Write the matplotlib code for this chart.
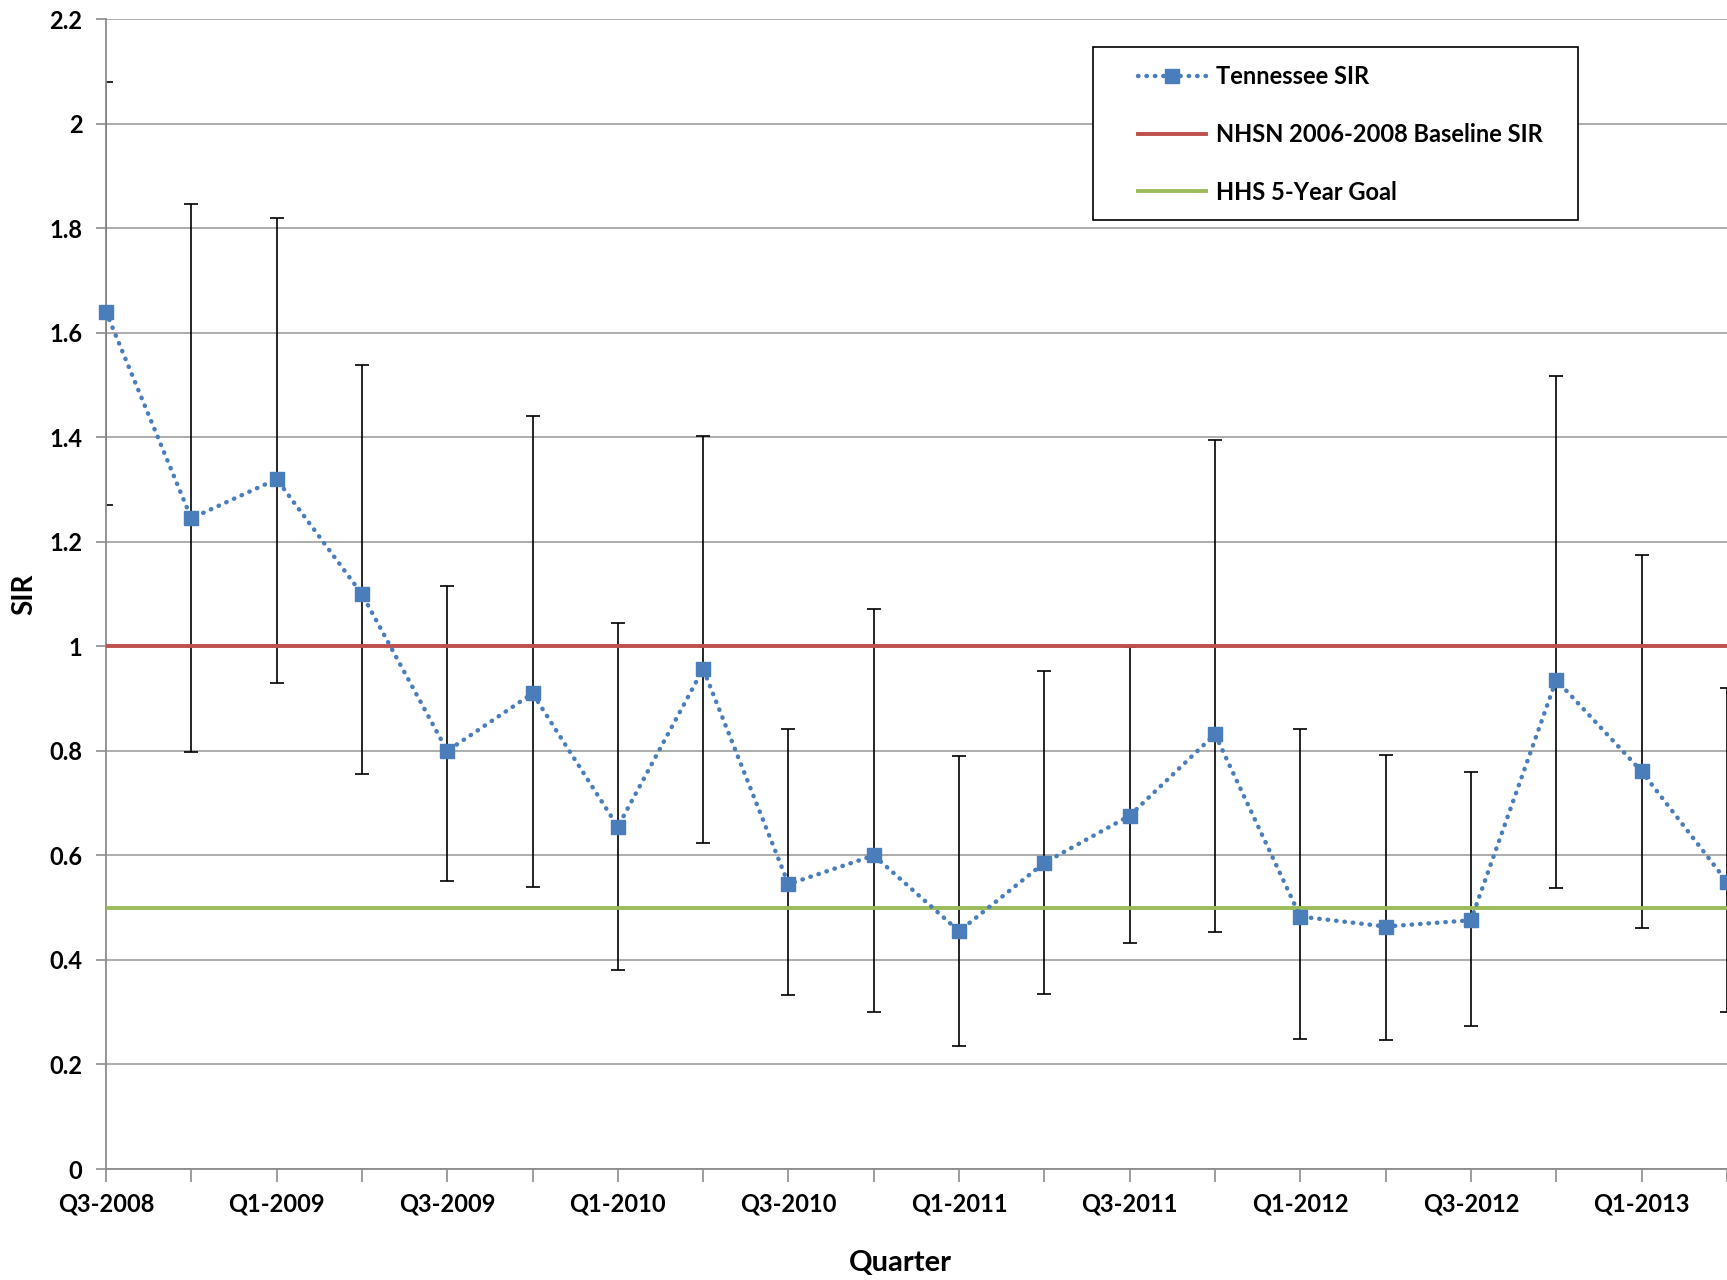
import numpy as np
import matplotlib.pyplot as plt
from matplotlib.patches import Rectangle

plt.rcParams['font.family'] = ['Lato', 'DejaVu Sans']

# quarterly data, Q3-2008 .. Q2-2013
quarters = ['Q3-2008', 'Q4-2008', 'Q1-2009', 'Q2-2009', 'Q3-2009', 'Q4-2009',
            'Q1-2010', 'Q2-2010', 'Q3-2010', 'Q4-2010', 'Q1-2011', 'Q2-2011',
            'Q3-2011', 'Q4-2011', 'Q1-2012', 'Q2-2012', 'Q3-2012', 'Q4-2012',
            'Q1-2013', 'Q2-2013']
sir = [1.64, 1.245, 1.32, 1.10, 0.80, 0.91, 0.655, 0.957, 0.545, 0.60,
       0.455, 0.586, 0.676, 0.832, 0.483, 0.464, 0.476, 0.936, 0.761, 0.55]
ci_upper = [2.08, 1.847, 1.82, 1.538, 1.115, 1.441, 1.045, 1.402, 0.841, 1.071,
            0.79, 0.953, 0.998, 1.394, 0.841, 0.793, 0.76, 1.518, 1.175, 0.921]
ci_lower = [1.27, 0.797, 0.93, 0.755, 0.552, 0.54, 0.381, 0.624, 0.333, 0.30,
            0.235, 0.335, 0.432, 0.453, 0.249, 0.247, 0.274, 0.537, 0.462, 0.30]
baseline = 1.0
goal = 0.5

x = np.arange(len(quarters))
sir = np.array(sir)
err = [sir - np.array(ci_lower), np.array(ci_upper) - sir]

fig = plt.figure(figsize=(17.27, 12.8), dpi=100)
ax = fig.add_axes([0.0614, 0.0867, 0.9385, 0.8983])

ax.grid(axis='y', color='#a6a6a6', linewidth=1.3)
ax.set_axisbelow(True)

ax.errorbar(x, sir, yerr=err, fmt='none', ecolor='black', elinewidth=1.2,
            capsize=5, capthick=1.2, zorder=2)
ax.axhline(baseline, color='#c0504d', linewidth=2.8, zorder=3,
           label='NHSN 2006-2008 Baseline SIR')
ax.axhline(goal, color='#9bbb59', linewidth=2.8, zorder=3,
           label='HHS 5-Year Goal')
ax.plot(x, sir, linestyle=(0, (0.1, 1.8)), linewidth=3.2, color='#4a7ebb',
        marker='s', markersize=10, dash_capstyle='round', clip_on=False,
        zorder=4, label='Tennessee SIR')

ax.set_xlim(0, len(quarters) - 1)
ax.set_ylim(0, 2.2)
ax.set_yticks(np.arange(0, 2.21, 0.2))
ax.set_yticklabels(['0', '0.2', '0.4', '0.6', '0.8', '1', '1.2', '1.4',
                    '1.6', '1.8', '2', '2.2'])
ax.set_xticks(x)
ax.set_xticklabels([q if i % 2 == 0 else '' for i, q in enumerate(quarters)])

for s in ['top', 'right']:
    ax.spines[s].set_visible(False)
for s in ['left', 'bottom']:
    ax.spines[s].set_color('#8c8c8c')
    ax.spines[s].set_linewidth(1.3)
ax.tick_params(axis='y', length=7, width=1.2, color='#8c8c8c', pad=10,
               labelsize=17)
ax.tick_params(axis='x', length=9, width=1.2, color='#8c8c8c', pad=8,
               labelsize=17)
for lab in ax.get_xticklabels() + ax.get_yticklabels():
    lab.set_fontweight('bold')

ax.set_xlabel('Quarter', fontsize=21, fontweight='bold')
ax.xaxis.set_label_coords(0.49, -0.070)
ax.set_ylabel('SIR', fontsize=20, fontweight='bold')
ax.yaxis.set_label_coords(-0.0426, 0.5)

# legend box, Excel style (wide inner margins)
fig.patches.append(Rectangle((0.6329, 0.828), 0.2808, 0.135,
                             transform=fig.transFigure, facecolor='white',
                             edgecolor='black', linewidth=1.2, zorder=5))

handles, labels = ax.get_legend_handles_labels()
order = [2, 0, 1]
leg = fig.legend([handles[i] for i in order], [labels[i] for i in order],
                 loc='upper left', bbox_to_anchor=(0.659, 0.949),
                 frameon=False, borderpad=0, labelspacing=1.47,
                 handlelength=2.88, handletextpad=0.4, borderaxespad=0,
                 prop={'weight': 'bold', 'size': 17})
leg.set_zorder(6)

plt.savefig('out.png', dpi=100)
